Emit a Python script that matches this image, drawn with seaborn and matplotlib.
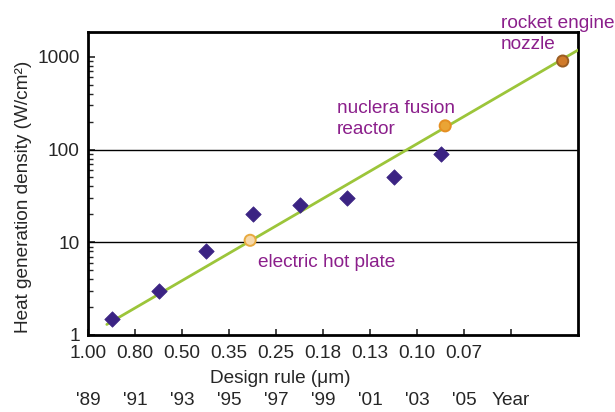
import numpy as np
import pandas as pd
import matplotlib
matplotlib.use("Agg")
import matplotlib.pyplot as plt
from matplotlib.ticker import LogLocator, NullFormatter
import seaborn as sns

# Data
chip_years = [1990, 1992, 1994, 1996, 1998, 2000, 2002, 2004]
chip_density = [1.5, 3.0, 8.0, 20, 25, 30, 50, 90]

ref_names = ["electric hot plate", "nuclera fusion\nreactor", "rocket engine\nnozzle"]
ref_years = [1995.9, 2004.2, 2009.2]
ref_density = [10.5, 180, 900]

trend_years = [1989.8, 2009.9]
trend_density = [1.3, 1200]

tick_years = [1989, 1991, 1993, 1995, 1997, 1999, 2001, 2003, 2005, 2007]
design_rules = ["1.00", "0.80", "0.50", "0.35", "0.25", "0.18", "0.13", "0.10", "0.07", ""]
year_labels = ["'89", "'91", "'93", "'95", "'97", "'99", "'01", "'03", "'05", "Year"]
y_ticks = [1, 10, 100, 1000]
grid_levels = [10, 100]

FS = 13.7

sns.set_style("ticks")
plt.rcParams['font.family'] = ['Liberation Sans', 'DejaVu Sans']
plt.rcParams['font.size'] = FS

chips = pd.DataFrame({'year': chip_years, 'density': chip_density})
refs = pd.DataFrame({'year': ref_years, 'density': ref_density, 'name': ref_names})
trend = pd.DataFrame({'year': trend_years, 'density': trend_density})

fig = plt.figure(figsize=(6.15, 4.12), dpi=100)
ax = fig.add_axes([0.1431, 0.1869, 0.7967, 0.7354])

ax.set_yscale('log')
for lvl in grid_levels:
    ax.axhline(lvl, color='black', linewidth=1.0, zorder=1)

sns.lineplot(data=trend, x='year', y='density', ax=ax, color='#9cc53a',
             linewidth=2.0, zorder=3)
sns.scatterplot(data=chips, x='year', y='density', ax=ax, marker='D', s=62,
                color='#3b2383', edgecolor='#3b2383', linewidth=0.5, zorder=4)

ref_faces = ['#f6d9ab', '#eaa435', '#d07a2a']
ref_edges = ['#e8aa40', '#e58f22', '#9a5c22']
sns.scatterplot(data=refs, x='year', y='density', ax=ax, hue='name',
                palette=ref_faces, s=64, edgecolor=ref_edges, linewidth=1.4,
                legend=False, zorder=5)

offsets = [(6, -16), (-78, 5), (-44.5, 19.5)]
for (_, row), off in zip(refs.iterrows(), offsets):
    ax.annotate(row['name'], (row['year'], row['density']), xytext=off,
                textcoords='offset points', ha='left', va='center',
                color='#8b1f8b', fontsize=FS, linespacing=1.32,
                annotation_clip=False)

ax.set_xlim(1989, 2009.85)
ax.set_ylim(1, 1850)
ax.set_xticks(tick_years)
ax.set_xticklabels(design_rules)
ax.set_yticks(y_ticks)
ax.set_yticklabels([str(v) for v in y_ticks])
ax.yaxis.set_minor_locator(LogLocator(base=10, subs=np.arange(2, 10)))
ax.yaxis.set_minor_formatter(NullFormatter())

ax.tick_params(axis='x', direction='in', length=4.5, width=1.2, pad=7,
               labelsize=FS, top=False)
ax.tick_params(axis='y', which='major', direction='in', length=5, width=1.2,
               pad=6, labelsize=FS, right=False)
ax.tick_params(axis='y', which='minor', direction='in', length=3.5, width=1.0,
               right=False)

for side in ['left', 'right', 'bottom', 'top']:
    ax.spines[side].set_visible(True)
    ax.spines[side].set_linewidth(2.0)
    ax.spines[side].set_color('black')

ax.set_xlabel('Design rule (\u03bcm)', fontsize=FS)
ax.xaxis.set_label_coords(0.393, -0.115)
ax.set_ylabel('Heat generation density (W/cm\u00b2)', fontsize=FS)
ax.yaxis.set_label_coords(-0.114, 0.456)

# second row of x labels: year of each design rule
for yr, lab in zip(tick_years, year_labels):
    ax.text(yr, -0.216, lab, transform=ax.get_xaxis_transform(),
            ha='center', va='center', fontsize=FS)

fig.savefig('out.png', dpi=100)
